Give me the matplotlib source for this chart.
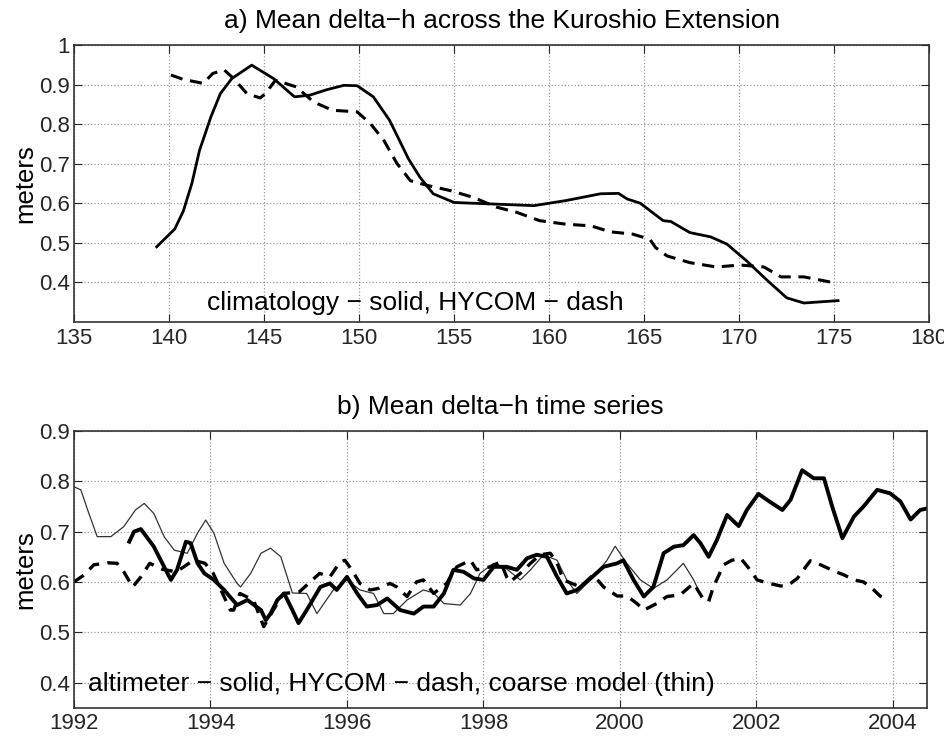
import matplotlib
matplotlib.use('Agg')
import matplotlib.pyplot as plt

plt.rcParams['font.family'] = ['Liberation Sans', 'DejaVu Sans']

# panel a: mean delta-h across the Kuroshio Extension (longitude, meters)
clim_lon = [139.35, 140.3, 140.75, 141.2, 141.6, 142.2, 142.7, 143.3, 144.35,
            145.5, 146.6, 147.4, 148.3, 149.2, 149.9, 150.75, 151.6, 152.6,
            153.2, 153.9, 155.0, 157.1, 159.2, 160.9, 162.7, 163.65, 164.1,
            164.8, 166.0, 166.4, 167.4, 168.5, 169.35, 170.4, 171.5, 172.5,
            173.4, 174.3, 175.2]
clim_h = [0.49, 0.535, 0.58, 0.65, 0.733, 0.818, 0.877, 0.915, 0.949,
          0.915, 0.869, 0.873, 0.887, 0.898, 0.897, 0.869, 0.81, 0.712,
          0.666, 0.624, 0.602, 0.598, 0.594, 0.607, 0.624, 0.625, 0.611,
          0.6, 0.556, 0.554, 0.526, 0.515, 0.497, 0.454, 0.404, 0.361,
          0.348, 0.351, 0.354]
hycom_lon = [140.1, 140.75, 141.8, 142.3, 142.9, 143.4, 144.1, 144.8, 145.1,
             145.6, 146.7, 147.6, 148.6, 149.9, 150.6, 151.3, 152.0, 152.7,
             153.6, 154.8, 156.0, 157.25, 158.3, 159.5, 160.9, 162.2, 163.2,
             164.4, 165.3, 165.6, 166.2, 167.4, 168.8, 170.05, 171.3, 172.2,
             173.4, 174.9]
hycom_h = [0.924, 0.913, 0.903, 0.928, 0.937, 0.915, 0.877, 0.866, 0.879,
           0.911, 0.894, 0.856, 0.835, 0.831, 0.801, 0.759, 0.7, 0.657,
           0.645, 0.632, 0.615, 0.59, 0.577, 0.556, 0.547, 0.543, 0.528,
           0.522, 0.509, 0.488, 0.467, 0.45, 0.439, 0.444, 0.439, 0.414,
           0.414, 0.4]

# panel b: mean delta-h time series (year, meters)
alt_t = [1992.81, 1992.88, 1992.98, 1993.17, 1993.37, 1993.42, 1993.51,
         1993.64, 1993.71, 1993.81, 1993.91, 1994.05, 1994.2, 1994.39,
         1994.54, 1994.74, 1994.81, 1994.88, 1994.98, 1995.08, 1995.2,
         1995.29, 1995.41, 1995.61, 1995.75, 1995.85, 1996.0, 1996.15,
         1996.29, 1996.44, 1996.59, 1996.78, 1996.98, 1997.12, 1997.27,
         1997.42, 1997.56, 1997.71, 1997.86, 1998.0, 1998.15, 1998.34,
         1998.49, 1998.64, 1998.78, 1998.93, 1999.08, 1999.22, 1999.37,
         1999.57, 1999.76, 1999.96, 2000.05, 2000.2, 2000.35, 2000.49,
         2000.64, 2000.79, 2000.93, 2001.08, 2001.18, 2001.3, 2001.42,
         2001.57, 2001.74, 2001.86, 2002.03, 2002.2, 2002.38, 2002.5,
         2002.67, 2002.84, 2002.99, 2003.11, 2003.26, 2003.43, 2003.57,
         2003.77, 2003.96, 2004.11, 2004.26, 2004.4, 2004.5]
alt_h = [0.68, 0.7, 0.705, 0.67, 0.617, 0.604, 0.624, 0.68, 0.677, 0.637,
         0.617, 0.604, 0.584, 0.554, 0.564, 0.544, 0.524, 0.537, 0.564,
         0.577, 0.544, 0.518, 0.544, 0.59, 0.597, 0.584, 0.61, 0.577, 0.551,
         0.554, 0.567, 0.544, 0.537, 0.551, 0.551, 0.577, 0.624, 0.62, 0.607,
         0.604, 0.63, 0.63, 0.624, 0.647, 0.654, 0.65, 0.61, 0.577, 0.584,
         0.607, 0.63, 0.637, 0.643, 0.604, 0.571, 0.59, 0.657, 0.67, 0.673,
         0.693, 0.677, 0.65, 0.683, 0.733, 0.711, 0.743, 0.775, 0.759, 0.743,
         0.763, 0.822, 0.806, 0.806, 0.75, 0.687, 0.73, 0.75, 0.783, 0.776,
         0.76, 0.724, 0.743, 0.746]
hyb_t = [1992.0, 1992.15, 1992.29, 1992.49, 1992.63, 1992.73, 1992.86,
         1992.98, 1993.11, 1993.3, 1993.5, 1993.75, 1993.92, 1994.04, 1994.29,
         1994.34, 1994.43, 1994.63, 1994.78, 1994.92, 1995.07, 1995.3,
         1995.6, 1995.75, 1995.9, 1995.97, 1996.07, 1996.19, 1996.34,
         1996.46, 1996.63, 1996.73, 1996.88, 1997.02, 1997.12, 1997.27,
         1997.46, 1997.61, 1997.81, 1997.9, 1998.1, 1998.25, 1998.34,
         1998.39, 1998.54, 1998.69, 1998.83, 1998.98, 1999.08, 1999.17,
         1999.42, 1999.61, 1999.76, 1999.96, 2000.1, 2000.25, 2000.35,
         2000.54, 2000.69, 2000.88, 2001.08, 2001.23, 2001.3, 2001.37,
         2001.52, 2001.64, 2001.77, 2001.89, 2002.01, 2002.16, 2002.35,
         2002.45, 2002.6, 2002.69, 2002.79, 2002.94, 2003.13, 2003.28,
         2003.43, 2003.57, 2003.72, 2003.82, 2003.94]
hyb_h = [0.6, 0.614, 0.634, 0.638, 0.637, 0.62, 0.59, 0.61, 0.637, 0.625,
         0.62, 0.643, 0.637, 0.617, 0.544, 0.544, 0.577, 0.564, 0.511, 0.544,
         0.577, 0.58, 0.617, 0.61, 0.64, 0.643, 0.624, 0.597, 0.584, 0.587,
         0.597, 0.59, 0.571, 0.6, 0.604, 0.577, 0.597, 0.63, 0.643, 0.624,
         0.63, 0.64, 0.61, 0.6, 0.617, 0.637, 0.654, 0.657, 0.637, 0.604,
         0.59, 0.614, 0.59, 0.572, 0.572, 0.557, 0.544, 0.557, 0.571, 0.574,
         0.597, 0.564, 0.561, 0.59, 0.634, 0.643, 0.647, 0.627, 0.604, 0.598,
         0.592, 0.592, 0.607, 0.624, 0.642, 0.634, 0.622, 0.614, 0.604, 0.6,
         0.584, 0.571, 0.563]
coarse_t = [1992.0, 1992.1, 1992.2, 1992.34, 1992.54, 1992.73, 1992.9,
            1993.03, 1993.17, 1993.32, 1993.47, 1993.66, 1993.81, 1993.93,
            1994.05, 1994.2, 1994.39, 1994.44, 1994.59, 1994.74, 1994.88,
            1995.03, 1995.2, 1995.41, 1995.56, 1995.8, 1996.0, 1996.19,
            1996.39, 1996.54, 1996.68, 1996.88, 1997.12, 1997.27, 1997.42,
            1997.66, 1997.81, 1997.95, 1998.15, 1998.3, 1998.54, 1998.69,
            1998.88, 1999.08, 1999.22, 1999.37, 1999.66, 1999.81, 1999.93,
            2000.1, 2000.3, 2000.49, 2000.69, 2000.93, 2001.08, 2001.15]
coarse_h = [0.789, 0.783, 0.743, 0.69, 0.69, 0.71, 0.743, 0.756, 0.736, 0.69,
            0.663, 0.657, 0.697, 0.723, 0.697, 0.637, 0.597, 0.59, 0.617,
            0.657, 0.667, 0.65, 0.578, 0.577, 0.537, 0.584, 0.604, 0.584,
            0.577, 0.537, 0.537, 0.564, 0.584, 0.578, 0.557, 0.554, 0.577,
            0.617, 0.637, 0.63, 0.604, 0.624, 0.654, 0.643, 0.604, 0.577,
            0.617, 0.643, 0.671, 0.637, 0.604, 0.587, 0.604, 0.637, 0.604,
            0.584]

LON_TICKS = list(range(135, 181, 5))
YEAR_TICKS = list(range(1992, 2005, 2))


def style_axes(ax):
    ax.grid(True, linestyle=':', color='0.6', linewidth=0.9)
    ax.tick_params(direction='in', top=True, right=True, length=6,
                   labelsize=16, colors='0.15')
    ax.tick_params(axis='y', pad=3)
    ax.tick_params(axis='x', pad=4)
    for s in ax.spines.values():
        s.set_linewidth(1.2)
        s.set_color('0.2')


fig = plt.figure(figsize=(9.44, 7.36), dpi=100)

ax1 = fig.add_axes([0.0784, 0.5625, 0.906, 0.3764])
ax1.plot(clim_lon, clim_h, color='black', linewidth=2.0)
ax1.plot(hycom_lon, hycom_h, color='black', linewidth=2.2,
         dashes=(4, 2.5))
ax1.set_xlim(135, 180)
ax1.set_ylim(0.3, 1.0)
ax1.set_xticks(LON_TICKS)
ax1.set_yticks([0.4, 0.5, 0.6, 0.7, 0.8, 0.9, 1.0])
ax1.set_yticklabels(['0.4', '0.5', '0.6', '0.7', '0.8', '0.9', '1'])
ax1.set_title('a) Mean delta\u2212h across the Kuroshio Extension',
              fontsize=19, pad=12)
ax1.set_ylabel('meters', fontsize=18.5, labelpad=1)
ax1.text(142.0, 0.348, 'climatology \u2212 solid, HYCOM \u2212 dash',
         fontsize=19, va='center')
style_axes(ax1)

ax2 = fig.add_axes([0.0784, 0.0385, 0.9036, 0.3759])
ax2.plot(coarse_t, coarse_h, color='0.2', linewidth=0.9)
ax2.plot(alt_t, alt_h, color='black', linewidth=2.8)
ax2.plot(hyb_t, hyb_h, color='black', linewidth=2.4, dashes=(3.5, 2.5))
ax2.set_xlim(1992, 2004.5)
ax2.set_ylim(0.35, 0.9)
ax2.set_xticks(YEAR_TICKS)
ax2.set_yticks([0.4, 0.5, 0.6, 0.7, 0.8, 0.9])
ax2.set_title('b) Mean delta\u2212h time series', fontsize=19, pad=12)
ax2.set_ylabel('meters', fontsize=18.5, labelpad=1)
ax2.text(1992.2, 0.397,
         'altimeter \u2212 solid, HYCOM \u2212 dash, coarse model (thin)',
         fontsize=19, va='center')
style_axes(ax2)

fig.savefig('out.png', dpi=100)
